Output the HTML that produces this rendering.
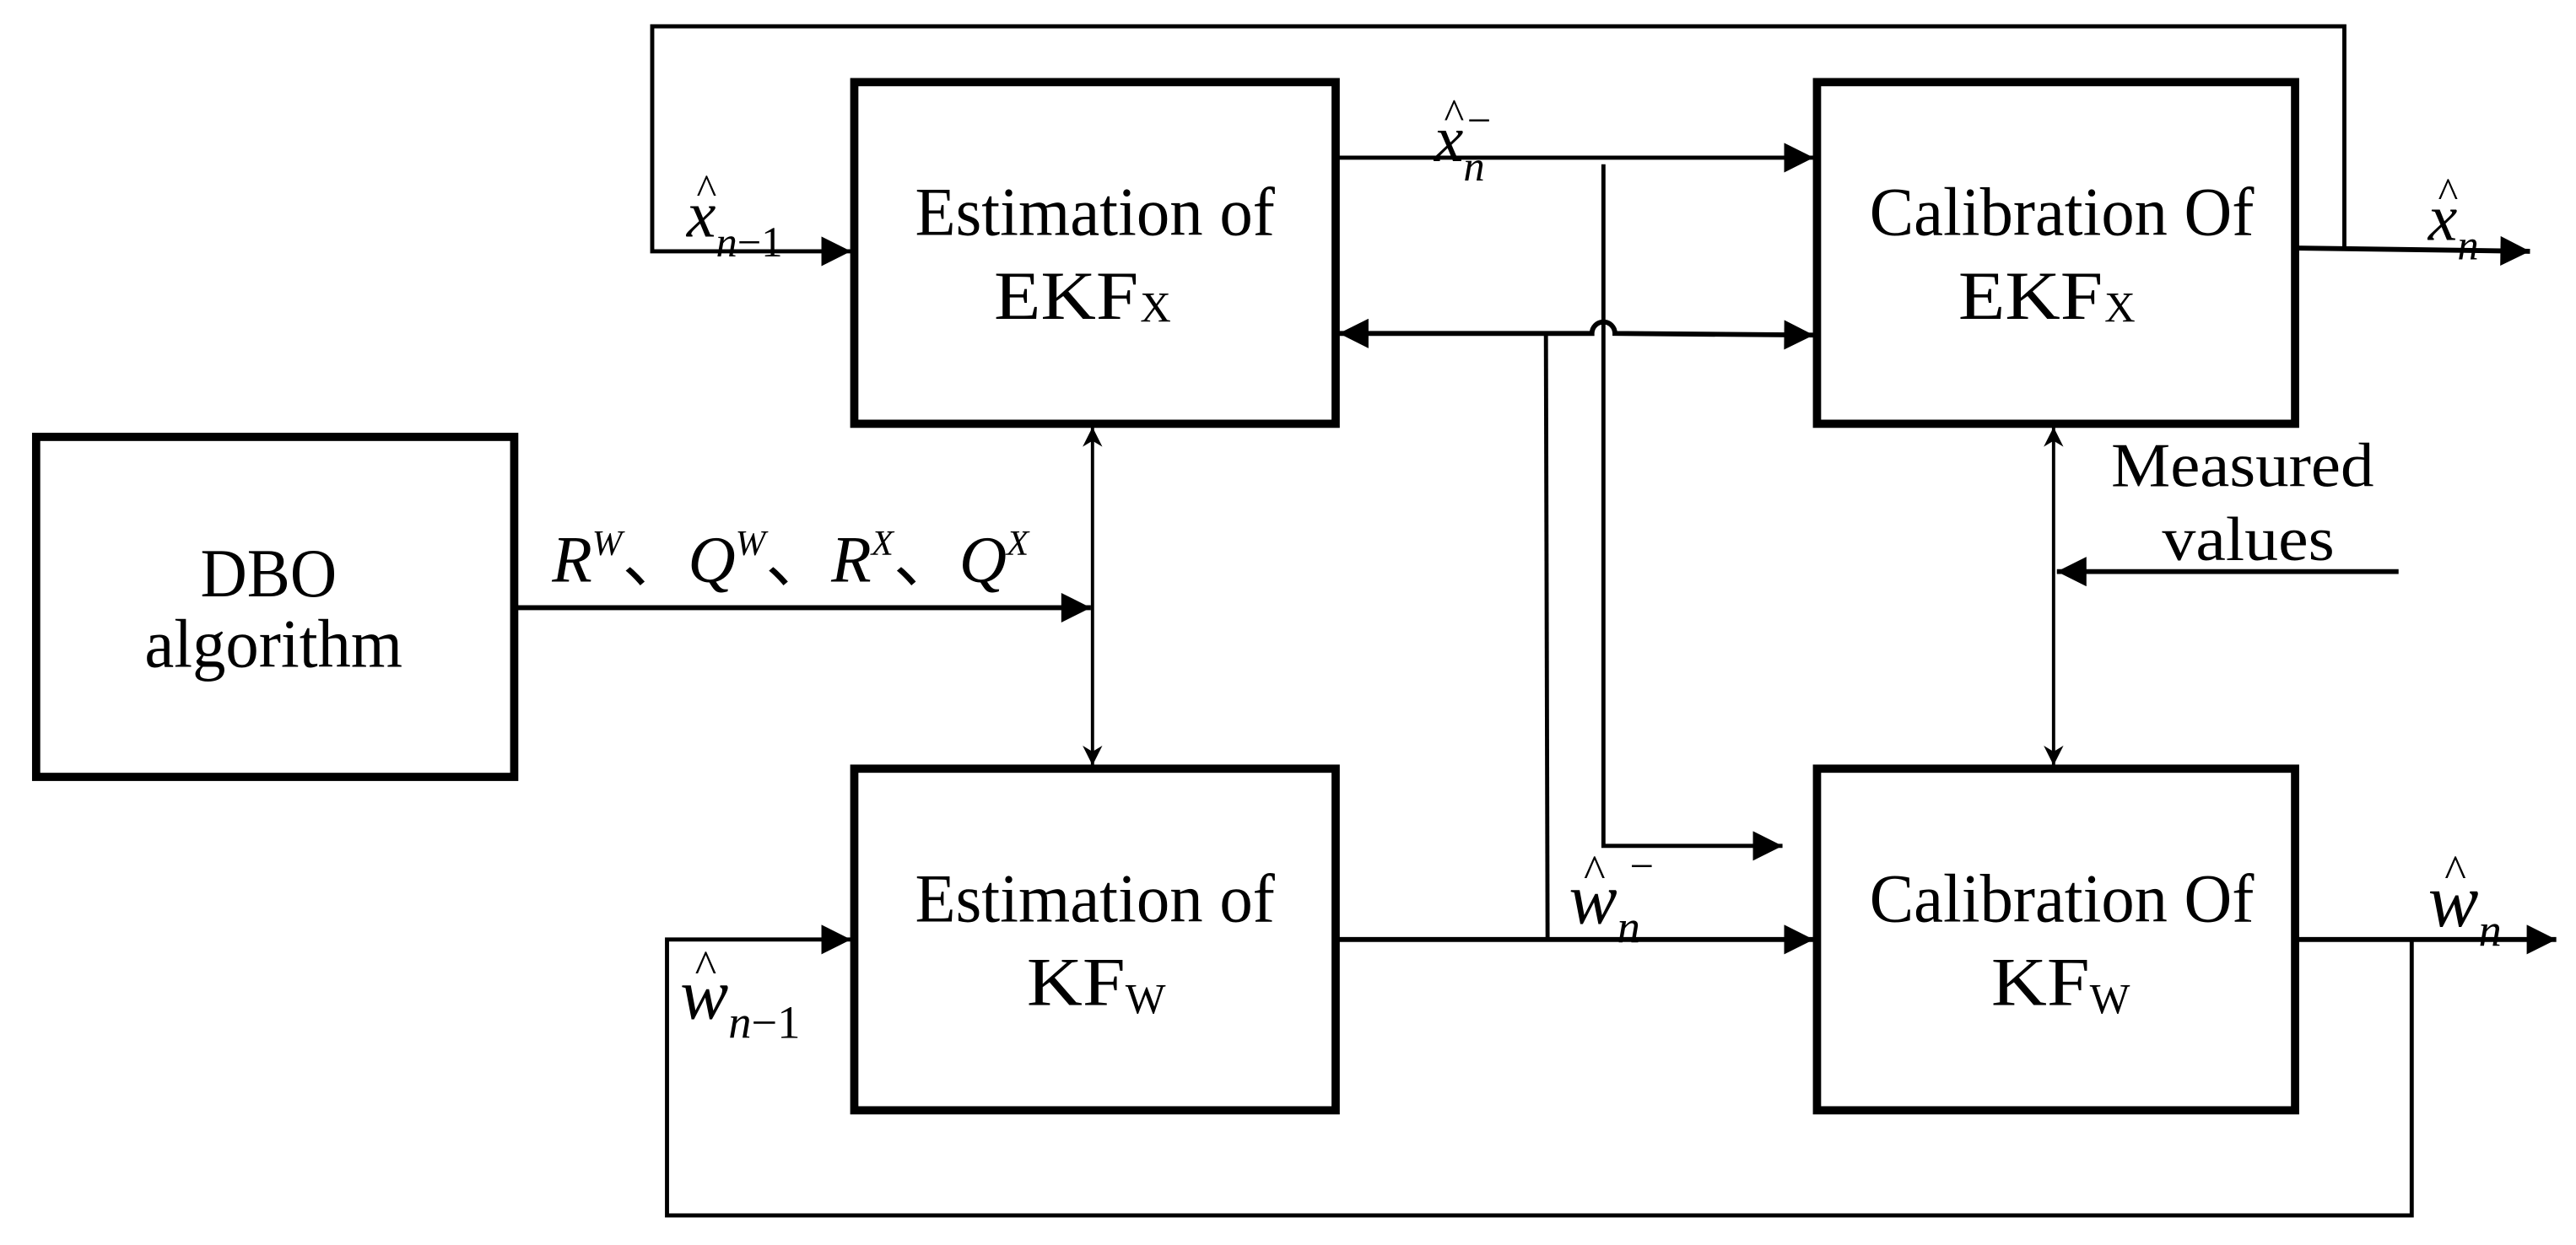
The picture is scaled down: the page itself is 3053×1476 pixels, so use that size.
<!DOCTYPE html>
<html><head><meta charset="utf-8"><style>html,body{margin:0;padding:0;background:#fff}svg{display:block}text{font-family:"Liberation Serif",serif;fill:#000}</style></head>
<body>
<svg width="3053" height="1476" viewBox="0 0 1568 758" preserveAspectRatio="none" xmlns="http://www.w3.org/2000/svg">
<defs>
<marker id="a" viewBox="0 0 10 10" refX="10" refY="5" markerWidth="20" markerHeight="18" markerUnits="userSpaceOnUse" orient="auto-start-reverse"><path d="M0,0 L10,5 L0,10 z" fill="#000"/></marker>
<marker id="b" viewBox="0 0 10 10" refX="10" refY="5" markerWidth="22" markerHeight="12" markerUnits="userSpaceOnUse" orient="auto-start-reverse"><path d="M0,0 L10,5 L0,10 L3,5 z" fill="#000"/></marker>
</defs>
<g fill="none" stroke="#000">
<rect x="22" y="266" width="291" height="207" stroke-width="5"/>
<rect x="520" y="50" width="293" height="208" stroke-width="5"/>
<rect x="1106" y="50" width="291" height="208" stroke-width="5"/>
<rect x="520" y="468" width="293" height="208" stroke-width="5"/>
<rect x="1106" y="468" width="291" height="208" stroke-width="5"/>
<polyline points="1427,151 1427,16 397,16 397,153 518,153" stroke-width="2.5" marker-end="url(#a)"/>
<line x1="1397" y1="151" x2="1540" y2="153" stroke-width="3" marker-end="url(#a)"/>
<line x1="813" y1="96" x2="1104" y2="96" stroke-width="2.5" marker-end="url(#a)"/>
<polyline points="976,100 976,515 1085,515" stroke-width="2.5" marker-end="url(#a)"/>
<path d="M815,203 L969,203 A7,7 0 0 1 983,203 L1104,204" stroke-width="3" marker-start="url(#a)" marker-end="url(#a)"/>
<line x1="941" y1="203" x2="942" y2="572" stroke-width="2.5"/>
<line x1="313" y1="370" x2="664" y2="370" stroke-width="3" marker-end="url(#a)"/>
<line x1="665" y1="260" x2="665" y2="466" stroke-width="2" marker-start="url(#b)" marker-end="url(#b)"/>
<line x1="1250" y1="260" x2="1250" y2="466" stroke-width="2" marker-start="url(#b)" marker-end="url(#b)"/>
<line x1="1460" y1="348" x2="1252" y2="348" stroke-width="3" marker-end="url(#a)"/>
<line x1="813" y1="572" x2="1104" y2="572" stroke-width="3" marker-end="url(#a)"/>
<line x1="1397" y1="572" x2="1556" y2="572" stroke-width="3" marker-end="url(#a)"/>
<polyline points="1468,572 1468,740 406,740 406,572 518,572" stroke-width="2.5" marker-end="url(#a)"/>
</g>
<g font-size="42">
<text x="557" y="143" textLength="219" lengthAdjust="spacingAndGlyphs">Estimation of</text>
<text x="605" y="194" textLength="88" lengthAdjust="spacingAndGlyphs">EKF</text><text x="694" y="196" font-size="26">X</text>
<text x="1138" y="143" textLength="234" lengthAdjust="spacingAndGlyphs">Calibration Of</text>
<text x="1192" y="194" textLength="88" lengthAdjust="spacingAndGlyphs">EKF</text><text x="1281" y="196" font-size="26">X</text>
<text x="557" y="561" textLength="219" lengthAdjust="spacingAndGlyphs">Estimation of</text>
<text x="625" y="612" textLength="60" lengthAdjust="spacingAndGlyphs">KF</text><text x="685" y="617" font-size="26">W</text>
<text x="1138" y="561" textLength="234" lengthAdjust="spacingAndGlyphs">Calibration Of</text>
<text x="1212" y="612" textLength="60" lengthAdjust="spacingAndGlyphs">KF</text><text x="1272" y="617" font-size="26">W</text>
<text x="122" y="363" textLength="83" lengthAdjust="spacingAndGlyphs">DBO</text>
<text x="88" y="406" textLength="157" lengthAdjust="spacingAndGlyphs">algorithm</text>
<text x="1285" y="296" font-size="38" textLength="160" lengthAdjust="spacingAndGlyphs">Measured</text>
<text x="1316" y="341" font-size="38" textLength="105" lengthAdjust="spacingAndGlyphs">values</text>
</g>
<g font-style="italic" font-size="40">
<text x="336" y="354">R<tspan font-size="22" dy="-16">W</tspan><tspan font-style="normal" dy="16">、</tspan>Q<tspan font-size="22" dy="-16">W</tspan><tspan font-style="normal" dy="16">、</tspan>R<tspan font-size="22" dy="-16">X</tspan><tspan font-style="normal" dy="16">、</tspan>Q<tspan font-size="22" dy="-16">X</tspan></text>
<text x="418" y="144">x<tspan font-size="26" dy="12">n</tspan><tspan font-size="26" font-style="normal">−1</tspan></text>
<text x="424" y="124" font-style="normal" font-size="26">^</text>
<text x="873" y="98">x<tspan font-size="26" dy="12">n</tspan></text>
<text x="879" y="78" font-style="normal" font-size="26">^</text>
<text x="893" y="82" font-style="normal" font-size="26">−</text>
<text x="1478" y="146">x<tspan font-size="26" dy="12">n</tspan></text>
<text x="1484" y="126" font-style="normal" font-size="26">^</text>
<text x="955" y="562" font-size="44">w<tspan font-size="28" dy="12">n</tspan></text>
<text x="964" y="540" font-style="normal" font-size="28">^</text>
<text x="992" y="536" font-style="normal" font-size="26">−</text>
<text x="1478" y="564" font-size="46">w<tspan font-size="28" dy="12">n</tspan></text>
<text x="1488" y="540" font-style="normal" font-size="28">^</text>
<text x="414" y="620" font-size="44">w<tspan font-size="28" dy="12">n</tspan><tspan font-size="28" font-style="normal">−1</tspan></text>
<text x="423" y="598" font-style="normal" font-size="28">^</text>
</g>
</svg>
</body></html>
